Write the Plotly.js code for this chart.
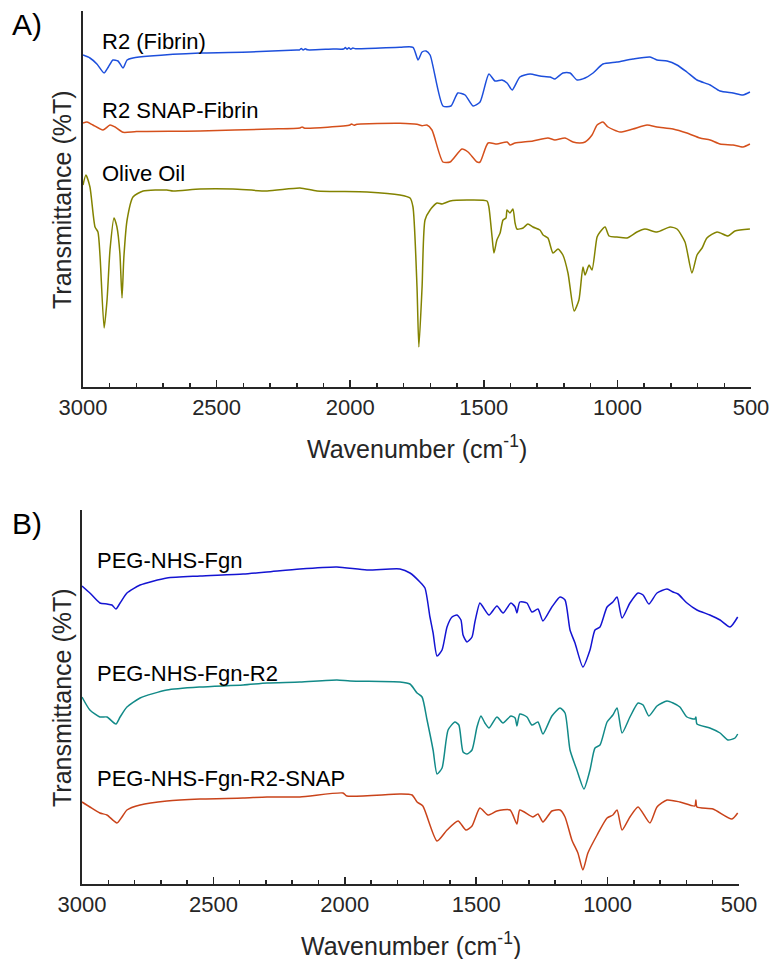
<!DOCTYPE html>
<html>
<head>
<meta charset="utf-8">
<script src="https://cdn.plot.ly/plotly-3.0.1.min.js"></script>
<style>html,body{margin:0;padding:0;background:#fff;}#chart{width:772px;height:959px;}</style>
</head>
<body>
<div id="chart"></div>
<script>
// ---------- Panel A data (wavenumber cm^-1, relative transmittance, offset-stacked) ----------
const r2FibrinWn = [3000,2974,2948,2921,2905,2888,2869,2850,2835,2813,2749,2562,2375,2200,2190,2183,2176,2168,2160,2064,2025,2018,2012,2005,1998,1990,1980,1814,1765,1746,1731,1716,1701,1653,1623,1597,1570,1540,1514,1481,1458,1432,1413,1394,1365,1327,1290,1252,1234,1204,1177,1151,1121,1091,1054,1002,942,878,852,814,777,740,702,653,616,567,530,504];
const r2FibrinT  = [332,329,323,314,320,327,326,319,327,329,331,334,335,337,337,338.5,337,338.2,337.2,338,338,339.5,337.8,339.3,337.8,339,338.2,339.7,339.7,327,335,336,332,281,281,294,292,281,285,313,306,307,304,297,310,313,311,310,308,314,314,307,309,314,323,325,328,330,327,326,322,315,307,302,296,294,292,295];

const r2SnapFibrinWn = [3000,2985,2963,2925,2899,2880,2850,2800,2562,2300,2188,2180,2170,2001,1995,1985,1975,1814,1750,1731,1713,1694,1653,1626,1582,1559,1525,1514,1484,1451,1413,1402,1383,1316,1260,1234,1196,1166,1140,1121,1095,1076,1054,1035,990,942,889,852,792,740,691,653,616,567,530,504];
const r2SnapFibrinT  = [264,265,262,257,262,260,254.7,255.5,256,258,259,260,258.8,262,263,261.8,262.8,263.7,262.7,261.3,262,257,225,225,238,235,225,225,244,243,245,242,244,246,249,247,249,245,244,245,252,262,265,260,255,258,262,260,258,254,249,247,243,242,240,243];

const oliveOilWn = [3000,2989,2974,2955,2944,2936,2921,2910,2899,2884,2873,2862,2854,2847,2835,2813,2775,2686,2663,2562,2439,2311,2188,2124,1937,1814,1776,1765,1750,1743,1731,1720,1701,1675,1656,1626,1563,1488,1481,1469,1462,1451,1439,1428,1417,1413,1402,1391,1383,1376,1353,1335,1316,1290,1278,1260,1241,1222,1204,1185,1162,1144,1129,1121,1106,1095,1076,1065,1046,1031,1002,964,927,897,852,803,777,747,721,702,683,665,627,586,560,504];
const oliveOilT  = [202,212,200,160,155,130,59,87,137,169,160,134,89,130,167,190,196,197,196,198,198,196,199,196,195,192,189,180,100,40,100,167,177,184,183,186,187,186,180,150,134,147,154,167,169,177,174,178,164,158,159,163,160,157,152,149,134,138,132,114,76,87,120,112,122,117,150,155,160,151,150,149,155,158,155,160,158,145,114,132,139,149,155,151,156,158];

// ---------- Panel B data ----------
const pegFgnWn = [3000,2970,2932,2905,2886,2871,2855,2829,2779,2677,2551,2387,2296,2171,2030,1916,1790,1752,1714,1695,1676,1664,1649,1630,1611,1592,1573,1558,1550,1535,1516,1505,1486,1474,1451,1421,1398,1368,1352,1345,1334,1307,1288,1265,1246,1212,1181,1162,1143,1124,1094,1067,1048,1029,1002,980,964,945,915,884,865,843,812,774,751,732,698,660,611,572,534,505];
const pegFgnT  = [298,291,281,280,279,275,281,291,299,306,308,310,312,315,317,314,315,311,302,296,267,251,228,234,257,267,269,264,249,242,247,262,281,277,269,278,271,281,277,271,282,281,272,275,263,277,287,284,254,241,217,234,254,257,277,282,287,266,281,291,289,280,291,295,292,290,281,274,269,264,257,267];

const pegFgnR2Wn = [3000,2970,2932,2905,2871,2855,2829,2779,2677,2551,2387,2296,2171,2030,1980,1790,1752,1725,1706,1687,1664,1649,1630,1607,1581,1566,1550,1535,1516,1497,1482,1467,1451,1421,1398,1368,1352,1345,1334,1307,1288,1265,1246,1212,1181,1162,1143,1117,1090,1067,1048,1029,1002,980,964,945,915,884,865,843,812,774,751,725,698,668,664,660,611,572,542,515,505];
const pegFgnR2T  = [187,174,167,167,160,167,177,186,194,197,199,201,202,204,203,202,200,191,187,164,134,110,116,154,162,159,132,130,134,157,168,161,156,167,161,168,166,158,170,167,159,162,150,168,176,171,134,114,95,114,136,139,162,169,176,151,167,181,179,168,178,183,181,177,167,165,167,160,156,151,144,146,150];

const pegFgnR2SnapWn = [3000,2970,2932,2905,2867,2848,2829,2779,2677,2551,2387,2296,2171,2007,1992,1790,1744,1725,1703,1649,1611,1569,1539,1516,1486,1455,1421,1371,1345,1334,1284,1265,1246,1212,1181,1162,1136,1113,1094,1075,1040,1002,980,964,945,915,884,839,812,774,725,668,664,660,599,527,505];
const pegFgnR2SnapT  = [82,77,71,69,61,67,74,79,83,85,86,87,87,91,88,90,89,82,78,43,54,63,54,58,76,69,73,74,60,74,67,70,62,73,74,67,44,31,14,31,49,66,69,74,54,67,77,61,77,84,82,78,84,77,75,65,71];

const xTickVals = [3000,2500,2000,1500,1000,500];
const panelALabels = ["R2 (Fibrin)","R2 SNAP-Fibrin","Olive Oil"];
const panelBLabels = ["PEG-NHS-Fgn","PEG-NHS-Fgn-R2","PEG-NHS-Fgn-R2-SNAP"];

// ---------- layout helpers ----------
const W = 772, H = 959;
const px = x => x / W;
const py = y => 1 - y / H;
const FONT = '"Liberation Sans", Arial, Helvetica, sans-serif';
const AX = '#262626';

function line(x, y, color, xa, ya, name) {
  return {x, y, type:'scatter', mode:'lines', name, xaxis:xa, yaxis:ya,
          line:{color, width:1.5, shape:'spline', smoothing:0.6}, hoverinfo:'skip', showlegend:false};
}

const traces = [
  line(r2FibrinWn, r2FibrinT, '#1d4fdc', 'x', 'y', panelALabels[0]),
  line(r2SnapFibrinWn, r2SnapFibrinT, '#d5501c', 'x', 'y', panelALabels[1]),
  line(oliveOilWn, oliveOilT, '#838300', 'x', 'y', panelALabels[2]),
  line(pegFgnWn, pegFgnT, '#1414d2', 'x2', 'y2', panelBLabels[0]),
  line(pegFgnR2Wn, pegFgnR2T, '#128a88', 'x2', 'y2', panelBLabels[1]),
  line(pegFgnR2SnapWn, pegFgnR2SnapT, '#c9431a', 'x2', 'y2', panelBLabels[2])
];

function xaxisCfg(domain, anchor) {
  return {
    domain, anchor, range:[3000,500], showgrid:false, zeroline:false,
    showline:true, linecolor:AX, linewidth:2, mirror:false,
    ticks:'inside', ticklen:7, tickwidth:1.5, tickcolor:AX,
    tickmode:'array', tickvals:xTickVals, ticktext:xTickVals.map(String),
    tickfont:{family:FONT, size:22, color:AX},
    minor:{dtick:100, tick0:0, ticks:'inside', ticklen:4, tickwidth:1.5, tickcolor:AX, showgrid:false},
    fixedrange:true
  };
}
function yaxisCfg(domain, anchor, range) {
  return {
    domain, anchor, range, showgrid:false, zeroline:false,
    showline:true, linecolor:AX, linewidth:2, ticks:'', showticklabels:false, fixedrange:true
  };
}

function lab(text, x, y, size) {
  return {text, xref:'paper', yref:'paper', x:px(x), y:py(y), xanchor:'left', yanchor:'middle',
          showarrow:false, font:{family:FONT, size:size||22, color:'#000'}};
}

const annotations = [
  lab('A)', 10, 25, 30),
  lab('B)', 10, 523, 30),
  lab(panelALabels[0], 100, 41),
  lab(panelALabels[1], 100, 111),
  lab(panelALabels[2], 100, 173),
  lab(panelBLabels[0], 95, 560),
  lab(panelBLabels[1], 95, 673),
  lab(panelBLabels[2], 95, 778),
  {text:'Wavenumber (cm<sup>-1</sup>)', xref:'paper', yref:'paper', x:px(417), y:py(447),
   xanchor:'center', yanchor:'middle', showarrow:false, font:{family:FONT, size:25, color:AX}},
  {text:'Wavenumber (cm<sup>-1</sup>)', xref:'paper', yref:'paper', x:px(410.5), y:py(944),
   xanchor:'center', yanchor:'middle', showarrow:false, font:{family:FONT, size:25, color:AX}},
  {text:'Transmittance (%T)', xref:'paper', yref:'paper', x:px(62), y:py(199), textangle:-90,
   xanchor:'center', yanchor:'middle', showarrow:false, font:{family:FONT, size:25, color:AX}},
  {text:'Transmittance (%T)', xref:'paper', yref:'paper', x:px(62), y:py(697), textangle:-90,
   xanchor:'center', yanchor:'middle', showarrow:false, font:{family:FONT, size:25, color:AX}}
];

const layout = {
  width:W, height:H, margin:{l:0, r:0, t:0, b:0},
  paper_bgcolor:'#fff', plot_bgcolor:'rgba(0,0,0,0)',
  showlegend:false,
  xaxis: xaxisCfg([px(83), px(751)], 'y'),
  yaxis: yaxisCfg([py(387), py(11)], 'x', [0,376]),
  xaxis2: xaxisCfg([px(82), px(739)], 'y2'),
  yaxis2: yaxisCfg([py(884), py(510)], 'x2', [0,374]),
  annotations
};

Plotly.newPlot('chart', traces, layout, {staticPlot:true, displayModeBar:false});
</script>
</body>
</html>
